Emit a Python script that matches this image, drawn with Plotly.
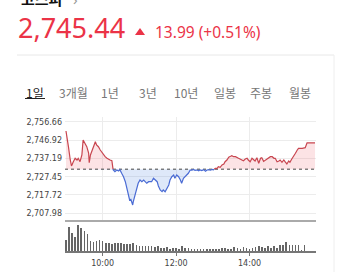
import plotly.graph_objects as go

# ---------------- data ----------------
index_name = "코스피"
last_price = 2745.44
change = 13.99
change_pct = 0.51
prev_close = 2731.45

tabs = ["1일", "3개월", "1년", "3년", "10년", "일봉", "주봉", "월봉"]

# minutes after 09:00
price_minutes = [0, 2, 4, 7, 9, 12, 15, 18, 20, 23, 26, 28, 31, 34, 37, 38, 40, 43, 45, 48,
                 50, 53, 56, 58, 61, 64, 67, 69, 72, 75, 77, 80, 83, 86, 88, 91, 94, 97, 99, 102,
                 104, 106, 109, 110, 113, 116, 118, 121, 124, 127, 129, 132, 135, 140, 143, 146, 149, 151, 154, 157,
                 159, 162, 165, 168, 170, 173, 176, 178, 181, 184, 187, 189, 192, 195, 198, 200, 203, 206, 208, 211,
                 214, 217, 219, 222, 225, 228, 230, 233, 236, 239, 241, 244, 247, 249, 252, 255, 258, 260, 263, 266,
                 269, 271, 274, 277, 282, 288, 290, 293, 296, 298, 301, 304, 307, 309, 312, 315, 318, 320, 323, 326,
                 329, 331, 334, 337, 340, 342, 345, 348, 350, 353, 356, 358, 361, 364, 366, 369, 372, 375, 378, 380,
                 386, 391, 394, 407]
price_values = [2751.77, 2746.08, 2743.42, 2736.34, 2733.14, 2735.43, 2737.24, 2736.34, 2737.24, 2735.43,
                2739.00, 2746.98, 2745.23, 2743.42, 2740.06, 2734.90, 2739.00, 2741.66, 2743.42, 2746.08,
                2744.32, 2743.42, 2741.66, 2740.75, 2739.00, 2738.09, 2737.24, 2736.71, 2736.34, 2735.97,
                2731.20, 2730.11, 2731.02, 2730.48, 2731.20, 2729.26, 2727.45, 2724.79, 2722.13, 2717.71,
                2715.05, 2715.42, 2712.39, 2714.15, 2717.71, 2721.28, 2723.94, 2725.69, 2724.79, 2725.69,
                2724.79, 2723.94, 2724.79, 2724.79, 2726.60, 2725.69, 2724.79, 2722.50, 2720.37, 2719.47,
                2720.37, 2719.47, 2721.28, 2723.03, 2725.69, 2727.45, 2728.35, 2726.60, 2728.35, 2727.45,
                2725.69, 2723.94, 2726.60, 2727.45, 2728.35, 2729.26, 2731.00, 2730.90, 2731.30, 2730.80,
                2731.00, 2730.60, 2731.10, 2730.70, 2731.20, 2730.40, 2730.90, 2731.20, 2730.90, 2731.30,
                2731.10, 2731.92, 2731.92, 2732.77, 2732.45, 2733.68, 2734.21, 2735.43, 2736.34, 2737.84,
                2738.30, 2738.63, 2738.09, 2738.09, 2737.24, 2736.34, 2735.97, 2736.87, 2737.24, 2736.34,
                2735.43, 2737.24, 2736.34, 2735.81, 2737.56, 2734.58, 2737.24, 2737.56, 2735.60, 2736.34,
                2737.24, 2737.24, 2738.09, 2738.09, 2737.24, 2737.24, 2735.43, 2735.81, 2736.34, 2735.10,
                2736.34, 2735.43, 2734.21, 2735.81, 2735.11, 2736.87, 2738.09, 2739.90, 2741.66, 2742.56,
                2742.56, 2742.88, 2745.44, 2745.44]

price_ticks = [2707.98, 2717.72, 2727.45, 2737.19, 2746.92, 2756.66]
price_tick_labels = ["2,707.98", "2,717.72", "2,727.45", "2,737.19", "2,746.92", "2,756.66"]

time_ticks = [60, 180, 300]
time_tick_labels = ["10:00", "12:00", "14:00"]

# 5-minute volume bars from 09:00 to 15:30 (relative units)
volume_values = [34, 74, 54, 44, 80, 70, 62, 52, 32, 27, 30, 34,
                 30, 24, 24, 22, 24, 24, 24, 22, 20, 20, 24, 17,
                 14, 14, 14, 14, 14, 12, 14, 10, 10, 12, 7, 10,
                 10, 7, 14, 10, 10, 7, 7, 7, 7, 7, 7, 7,
                 7, 7, 7, 10, 10, 7, 7, 12, 10, 7, 12, 10,
                 7, 10, 12, 14, 12, 10, 14, 10, 14, 10, 17, 17,
                 29, 19, 19, 19, 19, 3, 17]
volume_minutes = [5 * i for i in range(len(volume_values))]

# ---------------- helpers ----------------
W, H = 337, 272
def px(x):
    return x / W
def py(y):
    return 1 - y / H

RED = "#eb3347"
RED_LINE = "#c8454f"
BLUE_LINE = "#4a6bd4"
RED_FILL = "rgba(240,90,100,0.17)"
BLUE_FILL = "rgba(90,140,225,0.20)"

# insert baseline crossings so the red/blue parts join exactly
xs, ys = [], []
for i in range(len(price_values)):
    if i > 0:
        a, b = price_values[i - 1], price_values[i]
        if (a - prev_close) * (b - prev_close) < 0:
            f = (prev_close - a) / (b - a)
            xs.append(price_minutes[i - 1] + f * (price_minutes[i] - price_minutes[i - 1]))
            ys.append(prev_close)
    xs.append(price_minutes[i])
    ys.append(price_values[i])

up_fill = [max(v, prev_close) for v in ys]
dn_fill = [min(v, prev_close) for v in ys]
up_line = [v if v >= prev_close else None for v in ys]
dn_line = [v if v <= prev_close else None for v in ys]
base = [prev_close] * len(xs)

fig = go.Figure()
fig.add_trace(go.Scatter(x=xs, y=base, mode="lines", line=dict(width=0), hoverinfo="skip", showlegend=False))
fig.add_trace(go.Scatter(x=xs, y=up_fill, mode="lines", line=dict(width=0), fill="tonexty",
                         fillcolor=RED_FILL, hoverinfo="skip", showlegend=False))
fig.add_trace(go.Scatter(x=xs, y=base, mode="lines", line=dict(width=0), hoverinfo="skip", showlegend=False))
fig.add_trace(go.Scatter(x=xs, y=dn_fill, mode="lines", line=dict(width=0), fill="tonexty",
                         fillcolor=BLUE_FILL, hoverinfo="skip", showlegend=False))
# dotted previous-close line across the plot
fig.add_trace(go.Scatter(x=[-1.6, 408.6], y=[prev_close, prev_close], mode="lines",
                         line=dict(color="#444", width=1, dash="dot"), showlegend=False))
fig.add_trace(go.Scatter(x=xs, y=up_line, mode="lines", line=dict(color=RED_LINE, width=1.2),
                         connectgaps=False, showlegend=False))
fig.add_trace(go.Scatter(x=xs, y=dn_line, mode="lines", line=dict(color=BLUE_LINE, width=1.2),
                         connectgaps=False, showlegend=False))

fig.add_trace(go.Bar(x=volume_minutes, y=volume_values, width=1.0, marker=dict(color="#666", line=dict(width=0)),
                     xaxis="x2", yaxis="y2", showlegend=False))

XR = [-1.6, 408.6]
XD = [px(65), px(316)]
tick_font = dict(family="DejaVu Sans", size=8, color="#444")

fig.update_layout(
    width=W, height=H, margin=dict(l=0, r=0, t=0, b=0),
    paper_bgcolor="white", plot_bgcolor="white",
    showlegend=False, bargap=0,
    xaxis=dict(domain=XD, range=XR, tickvals=time_ticks, showticklabels=False,
               showgrid=True, gridcolor="#ececec", gridwidth=1, zeroline=False, showline=False, ticks=""),
    yaxis=dict(domain=[py(221), py(117)], range=[2703.87, 2759.22], tickvals=price_ticks,
               ticktext=price_tick_labels, showgrid=True, gridcolor="#ececec", gridwidth=1,
               zeroline=False, showline=False, ticks="", tickfont=tick_font, ticklabelstandoff=2),
    xaxis2=dict(domain=XD, range=XR, anchor="y2", tickvals=time_ticks, ticktext=time_tick_labels,
                showgrid=False, zeroline=False, showline=True, linecolor="#777", linewidth=2,
                ticks="outside", ticklen=3, tickcolor="#777", tickwidth=1, tickfont=tick_font),
    yaxis2=dict(domain=[py(251), py(222)], range=[0, 88.5], anchor="x2", showgrid=False,
                showticklabels=False, zeroline=False, showline=False, ticks=""),
)

shapes = [
    dict(type="line", xref="paper", yref="paper", x0=px(65), x1=px(316), y0=py(221), y1=py(221),
         line=dict(color="#aaaaaa", width=2)),
    dict(type="line", xref="paper", yref="paper", x0=px(17), x1=px(334), y0=py(55), y1=py(55),
         line=dict(color="#e8e8e8", width=1)),
    dict(type="line", xref="paper", yref="paper", x0=px(334), x1=px(334), y0=py(55), y1=0,
         line=dict(color="#eeeeee", width=1)),
    dict(type="line", xref="paper", yref="paper", x0=px(25), x1=px(45), y0=py(98.5), y1=py(98.5),
         line=dict(color="#222", width=1)),
    # up triangle
    dict(type="path", xref="paper", yref="paper",
         path=f"M {px(135)} {py(35)} L {px(145)} {py(35)} L {px(140)} {py(28)} Z",
         fillcolor=RED, line=dict(width=0)),
]
fig.update_layout(shapes=shapes)

ann = []
ann.append(dict(text=f"<b>{index_name}</b>", x=px(19), y=py(-2), xanchor="left", yanchor="middle",
                font=dict(family="Noto Sans CJK KR", size=15, color="#111"), showarrow=False,
                xref="paper", yref="paper"))
ann.append(dict(text="›", x=px(71), y=py(-1), xanchor="left", yanchor="middle",
                font=dict(family="Noto Sans", size=15, color="#999"), showarrow=False,
                xref="paper", yref="paper"))
ann.append(dict(text=f"{last_price:,.2f}", x=px(16), y=py(28), xanchor="left", yanchor="middle",
                font=dict(family="Noto Sans", size=27, color=RED), showarrow=False,
                xref="paper", yref="paper"))
ann.append(dict(text=f"{change:.2f} (+{change_pct:.2f}%)", x=px(153), y=py(32), xanchor="left",
                yanchor="middle", font=dict(family="Noto Sans", size=15.5, color=RED), showarrow=False,
                xref="paper", yref="paper"))
tab_centers = [35, 73, 109.5, 147.5, 185.5, 225, 261, 300]
for i, (t, cx) in enumerate(zip(tabs, tab_centers)):
    ann.append(dict(text=t, x=px(cx), y=py(92), xanchor="center", yanchor="middle",
                    font=dict(family="Noto Sans CJK KR", size=12, color="#222" if i == 0 else "#777"),
                    showarrow=False, xref="paper", yref="paper"))
fig.update_layout(annotations=ann)

fig.write_html("out.html")
